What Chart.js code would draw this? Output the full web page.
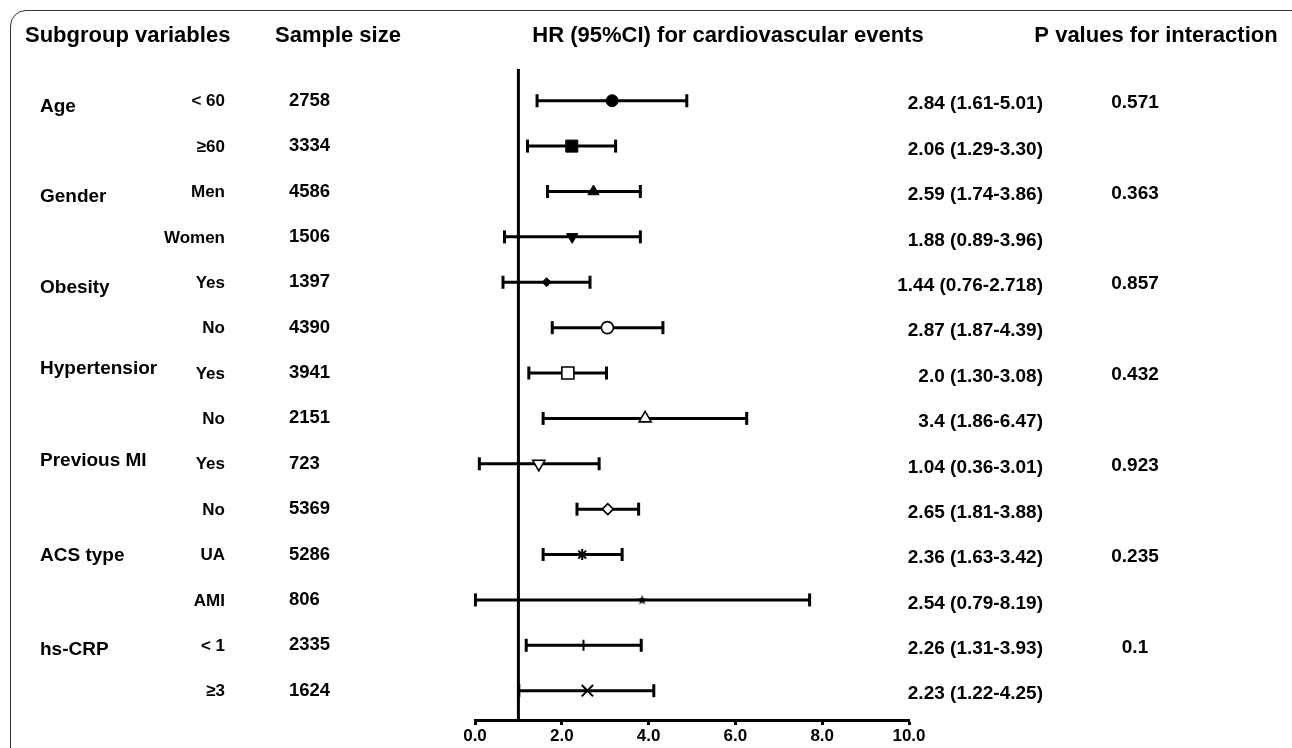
<!DOCTYPE html>
<html>
<head>
<meta charset="utf-8">
<title>Subgroup forest plot</title>
<script src="https://cdn.jsdelivr.net/npm/chart.js@4.4.1/dist/chart.umd.min.js"></script>
<style>
  html, body { margin: 0; padding: 0; background: #fff; overflow: hidden; }
  #wrap { position: relative; width: 1292px; height: 748px; }
  #frame {
    position: absolute; left: 10px; top: 10px; width: 1300px; height: 800px;
    border: 1.5px solid #333; border-radius: 16px; pointer-events: none;
  }
  canvas { position: absolute; left: 0; top: 0; }
</style>
</head>
<body>
<div id="wrap">
  <canvas id="forest" width="1292" height="748"></canvas>
  <div id="frame"></div>
</div>
<script>
// --- DATA ---
const groupNames = ['Age', 'Gender', 'Obesity', 'Hypertensior', 'Previous MI', 'ACS type', 'hs-CRP'];
const subLabels = ['< 60', '≥60', 'Men', 'Women', 'Yes', 'No', 'Yes', 'No', 'Yes', 'No', 'UA', 'AMI', '< 1', '≥3'];
const sampleSizes = ['2758', '3334', '4586', '1506', '1397', '4390', '3941', '2151', '723', '5369', '5286', '806', '2335', '1624'];
const hrLabels = ['2.84 (1.61-5.01)', '2.06 (1.29-3.30)', '2.59 (1.74-3.86)', '1.88 (0.89-3.96)', '1.44 (0.76-2.718)',
  '2.87 (1.87-4.39)', '2.0 (1.30-3.08)', '3.4 (1.86-6.47)', '1.04 (0.36-3.01)', '2.65 (1.81-3.88)',
  '2.36 (1.63-3.42)', '2.54 (0.79-8.19)', '2.26 (1.31-3.93)', '2.23 (1.22-4.25)'];
const pInteraction = ['0.571', '', '0.363', '', '0.857', '', '0.432', '', '0.923', '', '0.235', '', '0.1', ''];

// plotted estimates and CI ends, as drawn in the figure
const hrPoint = [3.16, 2.23, 2.73, 2.24, 1.65, 3.05, 2.14, 3.92, 1.47, 3.06, 2.47, 3.85, 2.50, 2.59];
const ciLow   = [1.43, 1.21, 1.67, 0.68, 0.645, 1.78, 1.24, 1.57, 0.10, 2.35, 1.57, 0.01, 1.18, 1.01];
const ciHigh  = [4.88, 3.24, 3.81, 3.81, 2.65, 4.33, 3.03, 6.26, 2.86, 3.77, 3.39, 7.71, 3.83, 4.12];
const xTicks = [0, 2, 4, 6, 8, 10];
const noEffect = 1;

// --- STYLE ---
const rows = subLabels.map((_, i) => i + 1);
const Y_MIN = 0.301, Y_MAX = 14.646;
const FONT = '"Liberation Sans", Arial, sans-serif';

// small five-point star for the AMI row
function makeStar() {
  const c = document.createElement('canvas');
  c.width = 11; c.height = 11;
  const g = c.getContext('2d');
  g.fillStyle = '#000';
  g.beginPath();
  for (let k = 0; k < 10; k++) {
    const r = k % 2 === 0 ? 5.2 : 2.1;
    const a = -Math.PI / 2 + k * Math.PI / 5;
    g.lineTo(5.5 + r * Math.cos(a), 5.8 + r * Math.sin(a));
  }
  g.closePath();
  g.fill();
  return c;
}

const markerStyle = ['circle', 'rect', 'triangle', 'triangle', 'rectRot', 'circle', 'rect', 'triangle', 'triangle', 'rectRot', 'star', makeStar(), 'cross', 'crossRot'];
const markerRot   = [0, 0, 0, 180, 0, 0, 0, 0, 180, 0, 0, 0, 0, 0];
const markerSize  = [6, 8.5, 6.5, 6.5, 4.5, 6, 8.5, 7, 7, 5.5, 5.5, 5, 5.5, 8];
const markerFill  = ['#000', '#000', '#000', '#000', '#000', '#fff', '#fff', '#fff', '#fff', '#fff', '#000', '#000', '#000', '#000'];
const markerLine  = [1, 1, 1, 1, 1, 1.6, 1.6, 1.6, 1.6, 1.6, 2, 1, 2, 2];
const groupOffset = [5.6, 4.8, 5.6, -3.8, -3.3, 1.7, 4.5];

// --- DATASETS ---
const ciSets = rows.map((r, i) => ({
  data: [{ x: ciLow[i], y: r }, { x: ciHigh[i], y: r }],
  showLine: true,
  borderColor: '#000',
  borderWidth: 3,
  pointRadius: 0,
  clip: false,
  order: 3
}));

const whiskerSet = {
  data: rows.flatMap((r, i) => [{ x: ciLow[i], y: r }, { x: ciHigh[i], y: r }]),
  pointStyle: 'line',
  rotation: 90,
  pointRadius: 6.5,
  borderColor: '#000',
  borderWidth: 3,
  clip: false,
  order: 2
};

const markerSet = {
  data: rows.map((r, i) => ({ x: hrPoint[i], y: r })),
  pointStyle: markerStyle,
  rotation: markerRot,
  pointRadius: markerSize,
  backgroundColor: markerFill,
  borderColor: '#000',
  borderWidth: markerLine,
  clip: false,
  order: 1
};

const refLineSet = {
  data: [{ x: noEffect, y: Y_MIN }, { x: noEffect, y: Y_MAX }],
  showLine: true,
  borderColor: '#000',
  borderWidth: 3,
  pointRadius: 0,
  clip: false,
  order: 4
};

// --- TEXT COLUMNS ---
const tablePlugin = {
  id: 'forestTable',
  afterDraw(chart) {
    const ctx = chart.ctx;
    const ys = chart.scales.y;
    ctx.save();
    ctx.fillStyle = '#000';
    ctx.textBaseline = 'middle';

    ctx.font = 'bold 22px ' + FONT;
    ctx.textAlign = 'left';
    ctx.fillText('Subgroup variables', 25, 36);
    ctx.fillText('Sample size', 275, 36);
    ctx.textAlign = 'center';
    ctx.fillText('HR (95%CI) for cardiovascular events', 728, 36);
    ctx.fillText('P values for interaction', 1156, 36);

    ctx.font = 'bold 19px ' + FONT;
    ctx.textAlign = 'left';
    groupNames.forEach((g, k) => {
      ctx.fillText(g, 40, ys.getPixelForValue(k * 2 + 1) + groupOffset[k]);
    });

    rows.forEach((r, i) => {
      const y = ys.getPixelForValue(r);
      ctx.font = 'bold 17px ' + FONT;
      ctx.textAlign = 'right';
      ctx.fillText(subLabels[i], 225, y + 1);

      ctx.font = 'bold 18.5px ' + FONT;
      ctx.textAlign = 'left';
      ctx.fillText(sampleSizes[i], 289, y);

      ctx.font = 'bold 19px ' + FONT;
      ctx.textAlign = 'right';
      ctx.fillText(hrLabels[i], 1043, y + 3.5);

      if (pInteraction[i]) {
        ctx.textAlign = 'center';
        ctx.fillText(pInteraction[i], 1135, y + 2);
      }
    });
    ctx.restore();
  }
};

new Chart(document.getElementById('forest'), {
  type: 'scatter',
  data: { datasets: [markerSet, whiskerSet, ...ciSets, refLineSet] },
  options: {
    responsive: false,
    animation: false,
    layout: { padding: { left: 475, right: 383, top: 69, bottom: 0 } },
    plugins: { legend: { display: false }, tooltip: { enabled: false } },
    scales: {
      x: {
        type: 'linear',
        min: xTicks[0],
        max: xTicks[xTicks.length - 1],
        afterFit: s => { s.height = 28; },
        afterBuildTicks: s => { s.ticks = xTicks.map(v => ({ value: v })); },
        border: { display: true, color: '#000', width: 3 },
        grid: { drawOnChartArea: false, drawTicks: true, tickLength: 5, tickWidth: 3, tickColor: '#000' },
        ticks: {
          color: '#000',
          padding: 1,
          font: { family: FONT, size: 17, weight: 'bold' },
          callback: v => Number(v).toFixed(1)
        }
      },
      y: { type: 'linear', reverse: true, min: Y_MIN, max: Y_MAX, display: false }
    }
  },
  plugins: [tablePlugin]
});
</script>
</body>
</html>
